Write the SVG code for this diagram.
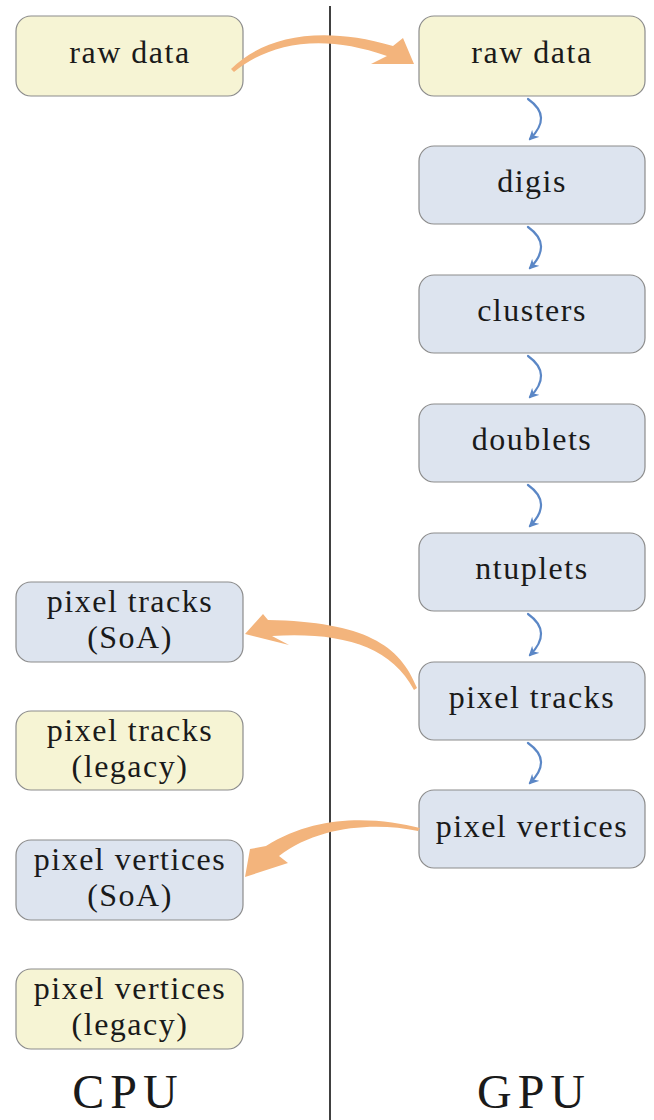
<svg xmlns="http://www.w3.org/2000/svg" width="654" height="1120" viewBox="0 0 654 1120">
  <defs>
    <style>
      .box { stroke: #8c8c8c; stroke-width: 1.2; }
      .cpu { fill: #F6F4D4; }
      .gpu { fill: #DDE4EF; }
      .lbl { font-family: "Liberation Serif", "DejaVu Serif", serif; font-size: 32px; letter-spacing: 1.5px; fill: #1a1a1a; text-anchor: middle; }
      .big { font-family: "Liberation Serif", "DejaVu Serif", serif; font-size: 48px; letter-spacing: 6px; fill: #1a1a1a; text-anchor: middle; }
      .orange { fill: #F3B47C; stroke: none; }
      .blue { fill: none; stroke: #5B87C6; stroke-width: 2.2; stroke-linecap: round; }
    </style>
    <marker id="bh" viewBox="0 0 10 10" refX="8" refY="5" markerWidth="10" markerHeight="10" markerUnits="userSpaceOnUse" orient="auto">
      <path d="M0,0 L10,5 L0,10 L3,5 Z" fill="#5B87C6"/>
    </marker>
  </defs>
  <rect width="654" height="1120" fill="#ffffff"/>
  <line x1="330" y1="6" x2="330" y2="1120" stroke="#111" stroke-width="1.6"/>

  <g id="cpu-raw-data">
    <rect class="box cpu" x="16" y="16" width="227" height="80" rx="15"/>
    <text class="lbl" x="130" y="63">raw data</text>
  </g>
  <g id="gpu-raw-data">
    <rect class="box cpu" x="419" y="16" width="226" height="80" rx="15"/>
    <text class="lbl" x="532" y="63">raw data</text>
  </g>
  <g id="digis">
    <rect class="box gpu" x="419" y="146" width="226" height="78" rx="15"/>
    <text class="lbl" x="532" y="192">digis</text>
  </g>
  <g id="clusters">
    <rect class="box gpu" x="419" y="275" width="226" height="78" rx="15"/>
    <text class="lbl" x="532" y="321">clusters</text>
  </g>
  <g id="doublets">
    <rect class="box gpu" x="419" y="404" width="226" height="78" rx="15"/>
    <text class="lbl" x="532" y="450">doublets</text>
  </g>
  <g id="ntuplets">
    <rect class="box gpu" x="419" y="533" width="226" height="78" rx="15"/>
    <text class="lbl" x="532" y="579">ntuplets</text>
  </g>
  <g id="gpu-pixel-tracks">
    <rect class="box gpu" x="419" y="662" width="226" height="78" rx="15"/>
    <text class="lbl" x="532" y="708">pixel tracks</text>
  </g>
  <g id="gpu-pixel-vertices">
    <rect class="box gpu" x="419" y="790" width="226" height="78" rx="15"/>
    <text class="lbl" x="532" y="837">pixel vertices</text>
  </g>

  <g id="pixel-tracks-soa">
    <rect class="box gpu" x="16" y="582" width="227" height="80" rx="15"/>
    <text class="lbl" x="130" y="612">pixel tracks</text>
    <text class="lbl" x="130" y="648">(SoA)</text>
  </g>
  <g id="pixel-tracks-legacy">
    <rect class="box cpu" x="16" y="711" width="227" height="79" rx="15"/>
    <text class="lbl" x="130" y="741">pixel tracks</text>
    <text class="lbl" x="130" y="777">(legacy)</text>
  </g>
  <g id="pixel-vertices-soa">
    <rect class="box gpu" x="16" y="840" width="227" height="80" rx="15"/>
    <text class="lbl" x="130" y="870">pixel vertices</text>
    <text class="lbl" x="130" y="906">(SoA)</text>
  </g>
  <g id="pixel-vertices-legacy">
    <rect class="box cpu" x="16" y="969" width="227" height="80" rx="15"/>
    <text class="lbl" x="130" y="999">pixel vertices</text>
    <text class="lbl" x="130" y="1035">(legacy)</text>
  </g>

  <g id="cpu-label">
    <text class="big" x="128" y="1108">CPU</text>
  </g>
  <g id="gpu-label">
    <text class="big" x="534" y="1108">GPU</text>
  </g>

  <g id="connectors">
    <path class="orange" d="M 231 69 C 262 38, 318 24, 393 46 L 403 38 L 414 64 L 371 64 L 387 56 C 320 32, 268 44, 234 72 Z"/>
    <path class="orange" d="M 417 688 C 400 645, 365 622, 268 620 L 263 614 L 245 634 L 289 645 L 272 636 C 340 632, 390 645, 414 690 Z"/>
    <path class="orange" d="M 420 828 C 380 818, 320 812, 266 846 L 250 849 L 245 877 L 288 863 L 279 856 C 318 826, 375 822, 418 831 Z"/>

    <path class="blue" marker-end="url(#bh)" d="M 528 99 C 545 111, 545 124, 530 139"/>
    <path class="blue" marker-end="url(#bh)" d="M 528 227 C 545 239, 545 253, 530 268"/>
    <path class="blue" marker-end="url(#bh)" d="M 528 356 C 545 368, 545 382, 530 397"/>
    <path class="blue" marker-end="url(#bh)" d="M 528 485 C 545 497, 545 511, 530 526"/>
    <path class="blue" marker-end="url(#bh)" d="M 528 614 C 545 626, 545 640, 530 655"/>
    <path class="blue" marker-end="url(#bh)" d="M 528 743 C 545 755, 545 768, 530 783"/>
  </g>
</svg>
